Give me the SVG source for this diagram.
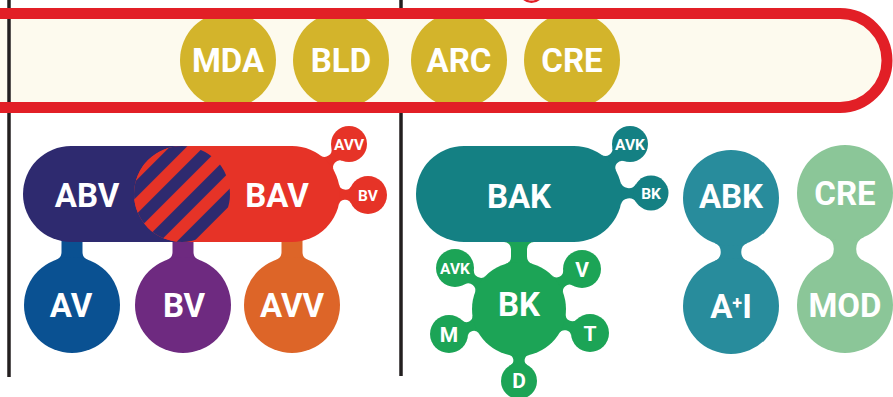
<svg xmlns="http://www.w3.org/2000/svg" width="893" height="397" viewBox="0 0 893 397">
<defs>
<style>
.t{font-family:Roboto,"Liberation Sans",sans-serif;font-weight:700;fill:#fff;text-anchor:middle}
.big{font-size:33px}
.sm{font-size:15.5px}
.md{font-size:21px}
.ln{stroke:#231f20;stroke-width:3.5}
.yl{fill:#d3b42b}
</style>
<pattern id="hatch" patternUnits="userSpaceOnUse" width="24" height="24" patternTransform="translate(182,194) rotate(45)">
<rect width="24" height="24" fill="#e63327"/>
<rect x="6" width="12" height="24" fill="#2e2a6f"/>
</pattern>
</defs>
<rect width="893" height="397" fill="#fff"/>
<line class="ln" x1="401" y1="0" x2="401" y2="376"/>
<g id="band">
<path d="M-20,13.5 L840,13.5 A47 47 0 0 1 840,107.5 L-20,107.5 Z" fill="#fdfaee"/>
<line class="ln" x1="9" y1="0" x2="9" y2="377"/>
<g id="MDA"><circle class="yl" cx="228" cy="60" r="48"/><text class="t big" x="228" y="72">MDA</text></g>
<g id="BLD"><circle class="yl" cx="341" cy="60" r="48"/><text class="t big" x="341" y="72">BLD</text></g>
<g id="ARC"><circle class="yl" cx="459" cy="60" r="48"/><text class="t big" x="459" y="72">ARC</text></g>
<g id="CRE-top"><circle class="yl" cx="572" cy="60" r="48"/><text class="t big" x="572" y="72">CRE</text></g>
<path d="M-20,13.5 L840,13.5 A47 47 0 0 1 840,107.5 L-20,107.5" fill="none" stroke="#e21f26" stroke-width="11"/>
<circle cx="531.5" cy="-10" r="11.8" fill="#fff" stroke="#e21f26" stroke-width="2.4"/>
</g>
<g id="connectors">
<path fill="#0a5192" d="M61.5,235 L61.5,252.14 A8 8 0 0 1 56.14,259.69 L87.86,259.69 A8 8 0 0 1 82.5,252.14 L82.5,235 Z"/>
<path fill="#6e2a80" d="M172.5,235 L172.5,252.14 A8 8 0 0 1 167.14,259.69 L198.86,259.69 A8 8 0 0 1 193.5,252.14 L193.5,235 Z"/>
<path fill="#dd6528" d="M281.5,235 L281.5,252.14 A8 8 0 0 1 276.14,259.69 L307.86,259.69 A8 8 0 0 1 302.5,252.14 L302.5,235 Z"/>
<path fill="#e63327" transform="translate(292,194) rotate(-41.26)" d="M46.9,10.21 A7 7 0 0 1 59.92,8.42 L59.92,-8.42 A7 7 0 0 1 46.9,-10.21 Z"/>
<path fill="#e63327" transform="translate(292,194) rotate(0.75)" d="M46.92,10.14 A6.5 6.5 0 0 1 59.07,8.58 L59.07,-8.58 A6.5 6.5 0 0 1 46.92,-10.14 Z"/>
<path fill="#148083" transform="translate(574,194) rotate(-41.76)" d="M46.71,11.06 A7 7 0 0 1 59.55,9.12 L59.55,-9.12 A7 7 0 0 1 46.71,-11.06 Z"/>
<path fill="#148083" transform="translate(574,194) rotate(-0.74)" d="M46.59,11.55 A8.5 8.5 0 0 1 62.09,9.15 L62.09,-9.15 A8.5 8.5 0 0 1 46.59,-11.55 Z"/>
<path fill="#1ca456" d="M504,238 L504,242 A7 7 0 0 1 511,249 L511,256.38 A8 8 0 0 1 505.33,264.03 L532.67,264.03 A8 8 0 0 1 527,256.38 L527,249 A7 7 0 0 1 534,242 L534,238 Z"/>
<path fill="#1ca456" transform="translate(519,309) rotate(-147.36)" d="M45.9,10.1 A7 7 0 0 1 59,8.48 L59,-8.48 A7 7 0 0 1 45.9,-10.1 Z"/>
<path fill="#1ca456" transform="translate(519,309) rotate(-32.41)" d="M45.8,10.57 A6.5 6.5 0 0 1 57.87,8.96 L57.87,-8.96 A6.5 6.5 0 0 1 45.8,-10.57 Z"/>
<path fill="#1ca456" transform="translate(519,309) rotate(160.35)" d="M45.99,9.7 A6 6 0 0 1 57.25,8.31 L57.25,-8.31 A6 6 0 0 1 45.99,-9.7 Z"/>
<path fill="#1ca456" transform="translate(519,309) rotate(18.68)" d="M45.88,10.18 A6.5 6.5 0 0 1 58.02,8.64 L58.02,-8.64 A6.5 6.5 0 0 1 45.88,-10.18 Z"/>
<path fill="#1ca456" transform="translate(519,309) rotate(90)" d="M45.93,9.95 A5.5 5.5 0 0 1 56.15,8.52 L56.15,-8.52 A5.5 5.5 0 0 1 45.93,-9.95 Z"/>
<path fill="#288c9c" d="M714.51,243.08 A9.5 9.5 0 0 1 714.51,260.92 L747.49,260.92 A9.5 9.5 0 0 1 747.49,243.08 Z"/>
<path fill="#8bc698" d="M825.97,237.07 A13 13 0 0 1 825.97,260.93 L864.03,260.93 A13 13 0 0 1 864.03,237.07 Z"/>
</g>
<g id="ABV"><rect x="23" y="146" width="207" height="96" rx="48" fill="#2e2a6f"/></g>
<g id="BAV"><rect x="134" y="146" width="206" height="96" rx="48" fill="#e63327"/></g>
<g id="ABV-BAV-overlap"><circle cx="182" cy="194" r="48" fill="url(#hatch)"/></g>
<text class="t big" x="87" y="207">ABV</text>
<text class="t big" x="277" y="207">BAV</text>
<g id="BAV-AVV"><circle cx="349" cy="144" r="18" fill="#e63327"/><text class="t sm" x="349" y="150">AVV</text></g>
<g id="BAV-BV"><circle cx="368" cy="195" r="19" fill="#e63327"/><text class="t sm" x="368" y="201">BV</text></g>
<g id="AV"><circle cx="72" cy="305" r="48" fill="#0a5192"/><text class="t big" x="71" y="317">AV</text></g>
<g id="BV"><circle cx="183" cy="305" r="48" fill="#6e2a80"/><text class="t big" x="184" y="317">BV</text></g>
<g id="AVV"><circle cx="292" cy="305" r="48" fill="#dd6528"/><text class="t big" x="292" y="317">AVV</text></g>
<g id="BAK"><rect x="416" y="146" width="206" height="96" rx="48" fill="#148083"/><text class="t big" x="519" y="208">BAK</text></g>
<g id="BAK-AVK"><circle cx="630" cy="144" r="18" fill="#148083"/><text class="t sm" x="630" y="150">AVK</text></g>
<g id="BAK-BK"><circle cx="651" cy="193" r="17.5" fill="#148083"/><text class="t sm" x="651" y="199">BK</text></g>
<g id="BK"><circle cx="519" cy="309" r="47" fill="#1ca456"/><text class="t big" x="519" y="316">BK</text></g>
<g id="BK-AVK"><circle cx="455" cy="268" r="19" fill="#1ca456"/><text class="t sm" x="455" y="274">AVK</text></g>
<g id="BK-V"><circle cx="582" cy="269" r="19" fill="#1ca456"/><text class="t md" x="582" y="277">V</text></g>
<g id="BK-M"><circle cx="449" cy="334" r="19" fill="#1ca456"/><text class="t md" x="449" y="342">M</text></g>
<g id="BK-T"><circle cx="590" cy="333" r="19" fill="#1ca456"/><text class="t md" x="590" y="341">T</text></g>
<g id="BK-D"><circle cx="519" cy="381" r="18" fill="#1ca456"/><text class="t md" x="519" y="388">D</text></g>
<g id="ABK"><circle cx="731" cy="198" r="48" fill="#288c9c"/><text class="t big" x="731" y="208">ABK</text></g>
<g id="AI"><circle cx="731" cy="306" r="48" fill="#288c9c"/><text class="t big" x="731" y="318">A<tspan font-size="18" dy="-9">+</tspan><tspan dy="9">I</tspan></text></g>
<g id="CRE"><circle cx="845" cy="193" r="48" fill="#8bc698"/><text class="t big" x="845" y="205">CRE</text></g>
<g id="MOD"><circle cx="845" cy="305" r="48" fill="#8bc698"/><text class="t big" x="845" y="317">MOD</text></g>
</svg>
